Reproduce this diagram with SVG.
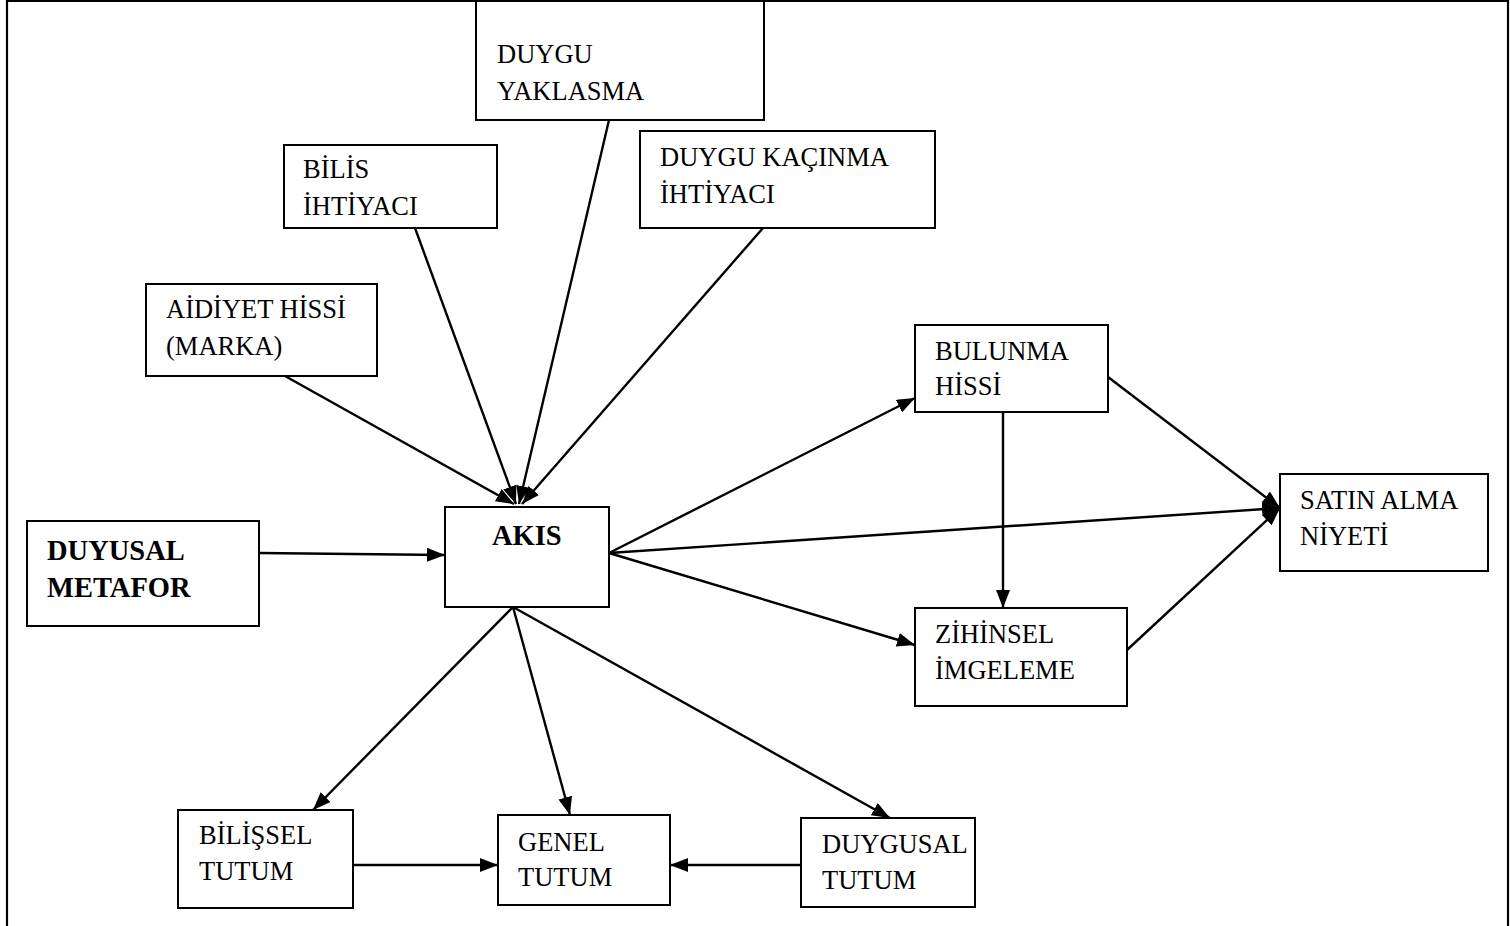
<svg xmlns="http://www.w3.org/2000/svg" width="1510" height="926" viewBox="0 0 1510 926">
  <defs>
    <marker id="arrow" viewBox="0 0 18 14" refX="18" refY="7" markerWidth="18" markerHeight="14" markerUnits="userSpaceOnUse" orient="auto">
      <path d="M0,0 L18,7 L0,14 Z" fill="#000"/>
    </marker>
    <style>
      .box { fill: #fff; stroke: #000; stroke-width: 2; }
      .lbl { font-family: 'Liberation Serif', 'DejaVu Serif', serif; font-size: 26.5px; fill: #000; }
      .bold { font-weight: bold; font-size: 28.5px; }
      .edge { stroke: #000; stroke-width: 2.4; fill: none; marker-end: url(#arrow); }
      .frame { stroke: #000; stroke-width: 2.2; fill: none; }
    </style>
  </defs>

  <rect width="1510" height="926" fill="#fff"/>
  <!-- outer frame (open at the bottom) -->
  <path class="frame" d="M7,930 L7,1 L1508,1 L1508,930"/>

  <g id="connectors">
    <line class="edge" x1="259" y1="553" x2="445" y2="555"/>
    <line class="edge" x1="285" y1="376" x2="514" y2="504"/>
    <line class="edge" x1="415" y1="228" x2="516" y2="504"/>
    <line class="edge" x1="609" y1="120" x2="519" y2="504"/>
    <line class="edge" x1="763" y1="228" x2="522" y2="504"/>
    <line class="edge" x1="609" y1="553" x2="915" y2="398"/>
    <line class="edge" x1="609" y1="553" x2="1280" y2="508"/>
    <line class="edge" x1="609" y1="553" x2="915" y2="645"/>
    <line class="edge" x1="1108" y1="377" x2="1280" y2="508"/>
    <line class="edge" x1="1003" y1="412" x2="1003" y2="608"/>
    <line class="edge" x1="1127" y1="650" x2="1280" y2="508"/>
    <line class="edge" x1="513" y1="607" x2="313" y2="810"/>
    <line class="edge" x1="513" y1="607" x2="570" y2="815"/>
    <line class="edge" x1="513" y1="607" x2="890" y2="818"/>
    <line class="edge" x1="353" y1="865" x2="498" y2="865"/>
    <line class="edge" x1="801" y1="865" x2="670" y2="865"/>
  </g>

  <g id="duyusal-metafor">
    <rect class="box" x="27" y="521" width="232" height="105"/>
    <text class="lbl bold" x="47" y="560">DUYUSAL</text>
    <text class="lbl bold" x="47" y="597">METAFOR</text>
  </g>

  <g id="akis">
    <rect class="box" x="445" y="507" width="164" height="100"/>
    <text class="lbl bold" x="492" y="545">AKIS</text>
  </g>

  <g id="aidiyet-hissi">
    <rect class="box" x="146" y="284" width="231" height="92"/>
    <text class="lbl" x="166" y="318">AİDİYET HİSSİ</text>
    <text class="lbl" x="166" y="355">(MARKA)</text>
  </g>

  <g id="bilis-ihtiyaci">
    <rect class="box" x="284" y="145" width="213" height="83"/>
    <text class="lbl" x="303" y="178">BİLİS</text>
    <text class="lbl" x="303" y="215">İHTİYACI</text>
  </g>

  <g id="duygu-yaklasma">
    <rect class="box" x="476" y="1" width="288" height="119"/>
    <text class="lbl" x="497" y="63">DUYGU</text>
    <text class="lbl" x="497" y="100">YAKLASMA</text>
  </g>

  <g id="duygu-kacinma">
    <rect class="box" x="640" y="131" width="295" height="97"/>
    <text class="lbl" x="660" y="166">DUYGU KAÇINMA</text>
    <text class="lbl" x="660" y="203">İHTİYACI</text>
  </g>

  <g id="bulunma-hissi">
    <rect class="box" x="915" y="325" width="193" height="87"/>
    <text class="lbl" x="935" y="360">BULUNMA</text>
    <text class="lbl" x="935" y="395">HİSSİ</text>
  </g>

  <g id="zihinsel-imgeleme">
    <rect class="box" x="915" y="608" width="212" height="98"/>
    <text class="lbl" x="935" y="643">ZİHİNSEL</text>
    <text class="lbl" x="935" y="679">İMGELEME</text>
  </g>

  <g id="satin-alma-niyeti">
    <rect class="box" x="1280" y="474" width="208" height="97"/>
    <text class="lbl" x="1300" y="509">SATIN ALMA</text>
    <text class="lbl" x="1300" y="545">NİYETİ</text>
  </g>

  <g id="bilissel-tutum">
    <rect class="box" x="178" y="810" width="175" height="98"/>
    <text class="lbl" x="199" y="844">BİLİŞSEL</text>
    <text class="lbl" x="199" y="880">TUTUM</text>
  </g>

  <g id="genel-tutum">
    <rect class="box" x="498" y="815" width="172" height="90"/>
    <text class="lbl" x="518" y="851">GENEL</text>
    <text class="lbl" x="518" y="886">TUTUM</text>
  </g>

  <g id="duygusal-tutum">
    <rect class="box" x="801" y="818" width="174" height="89"/>
    <text class="lbl" x="822" y="853">DUYGUSAL</text>
    <text class="lbl" x="822" y="889">TUTUM</text>
  </g>
</svg>
